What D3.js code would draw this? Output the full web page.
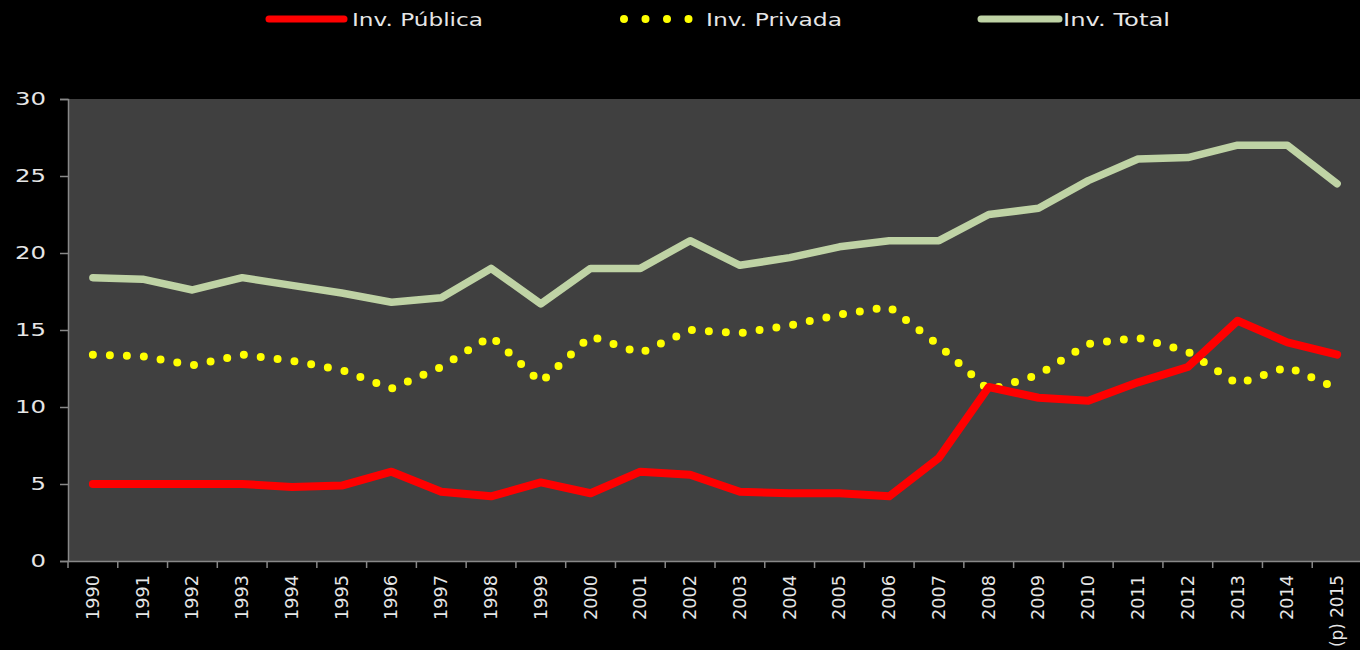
<!DOCTYPE html>
<html>
<head>
<meta charset="utf-8">
<script src="https://cdn.jsdelivr.net/npm/d3@7"></script>
<style>
  html, body { margin: 0; padding: 0; background: #000; }
  svg { display: block; }
</style>
</head>
<body>
<svg id="chart" width="1360" height="650"></svg>
<script>
const years = ["1990","1991","1992","1993","1994","1995","1996","1997","1998","1999","2000","2001","2002","2003","2004","2005","2006","2007","2008","2009","2010","2011","2012","2013","2014","(p) 2015"];
const invPublica = [5.0,5.0,5.0,5.0,4.8,4.9,5.8,4.5,4.2,5.1,4.4,5.8,5.6,4.5,4.4,4.4,4.2,6.7,11.3,10.6,10.4,11.6,12.6,15.6,14.2,13.4];
const invPrivada = [13.4,13.3,12.7,13.4,13.0,12.4,11.2,12.6,14.6,11.6,14.6,13.5,15.0,14.8,15.3,16.0,16.5,14.0,11.1,12.1,14.1,14.5,13.6,11.5,12.6,11.2];
const invTotal = [18.4,18.3,17.6,18.4,17.9,17.4,16.8,17.1,19.0,16.7,19.0,19.0,20.8,19.2,19.7,20.4,20.8,20.8,22.5,22.9,24.7,26.1,26.2,27.0,27.0,24.5];
const yTicks = [0,5,10,15,20,25,30];
const seriesNames = ["Inv. Pública","Inv. Privada","Inv. Total"];

(function () {
const svg = d3.select("#chart");
const pLeft = 68, pRight = 1362, pTop = 99, pBottom = 561;

const x = d3.scaleBand().domain(years).range([pLeft, pRight]).padding(0);
const y = d3.scaleLinear().domain([0, 30]).range([pBottom, pTop]);

svg.append("rect").attr("x", 0).attr("y", 0).attr("width", 1360).attr("height", 650).attr("fill", "#000");
svg.append("rect").attr("x", pLeft).attr("y", pTop).attr("width", 1360 - pLeft).attr("height", pBottom - pTop).attr("fill", "#404040");

// Y axis
const yAxis = svg.append("g").attr("transform", `translate(${pLeft},0)`)
  .call(d3.axisLeft(y).tickValues(yTicks).tickSize(8).tickPadding(14));
yAxis.select(".domain").attr("stroke", "#888").attr("stroke-width", 1.5);
yAxis.selectAll(".tick line").attr("stroke", "#888").attr("stroke-width", 1.5);
yAxis.selectAll(".tick text")
  .attr("fill", "#e6e6e6").attr("font-family", "DejaVu Sans, Verdana, sans-serif")
  .attr("font-size", 18)
  .attr("textLength", d => String(d).length * 15.5)
  .attr("lengthAdjust", "spacingAndGlyphs");

// X axis
const xAxis = svg.append("g").attr("transform", `translate(0,${pBottom})`)
  .call(d3.axisBottom(x).tickSize(0).tickPadding(0));
xAxis.select(".domain").attr("stroke", "#888").attr("stroke-width", 1.5);
const bounds = years.map(d => x(d));
xAxis.selectAll(".bound").data(bounds).enter().append("line")
  .attr("class", "bound")
  .attr("x1", d => d).attr("x2", d => d).attr("y1", 0).attr("y2", 7)
  .attr("stroke", "#888").attr("stroke-width", 1.5);
xAxis.selectAll(".tick text")
  .attr("fill", "#e6e6e6").attr("font-family", "DejaVu Sans, Verdana, sans-serif")
  .attr("font-size", 17)
  .attr("text-anchor", "end")
  .attr("dy", "0.35em")
  .attr("transform", "translate(0,14) rotate(-90)")
  .attr("textLength", d => d.length === 4 ? 45 : 72)
  .attr("lengthAdjust", "spacingAndGlyphs")
  .attr("y", 0).attr("x", 0);

const cx = d => x(d) + x.bandwidth() / 2;
const line = d3.line().x(d => cx(d.year)).y(d => y(d.v));
const mk = arr => years.map((yr, i) => ({ year: yr, v: arr[i] }));

svg.append("path").datum(mk(invTotal)).attr("d", line)
  .attr("fill", "none").attr("stroke", "#bfd3a5").attr("stroke-width", 7.5)
  .attr("stroke-linejoin", "round").attr("stroke-linecap", "round");

svg.append("path").datum(mk(invPrivada)).attr("d", line)
  .attr("fill", "none").attr("stroke", "#ffff00").attr("stroke-width", 8)
  .attr("stroke-linecap", "round").attr("stroke-dasharray", "0 17");

svg.append("path").datum(mk(invPublica)).attr("d", line)
  .attr("fill", "none").attr("stroke", "#ff0000").attr("stroke-width", 8)
  .attr("stroke-linejoin", "round").attr("stroke-linecap", "round");

// Legend
const legend = [
  { name: seriesNames[0], color: "#ff0000", x1: 269, x2: 344, tx: 352, tl: 131, dash: null },
  { name: seriesNames[1], color: "#ffff00", x1: 624, x2: 690, tx: 706, tl: 136, dash: "0 21.5" },
  { name: seriesNames[2], color: "#bfd3a5", x1: 981, x2: 1059, tx: 1063, tl: 107, dash: null }
];
const lg = svg.append("g");
legend.forEach(l => {
  lg.append("line").attr("x1", l.x1).attr("x2", l.x2).attr("y1", 19).attr("y2", 19)
    .attr("stroke", l.color).attr("stroke-width", l.dash ? 8 : 7).attr("stroke-linecap", "round")
    .attr("stroke-dasharray", l.dash);
  lg.append("text").attr("x", l.tx).attr("y", 26).text(l.name)
    .attr("fill", "#e6e6e6").attr("font-family", "DejaVu Sans, Verdana, sans-serif")
    .attr("font-size", 17).attr("textLength", l.tl).attr("lengthAdjust", "spacingAndGlyphs");
});
})();
</script>
</body>
</html>
